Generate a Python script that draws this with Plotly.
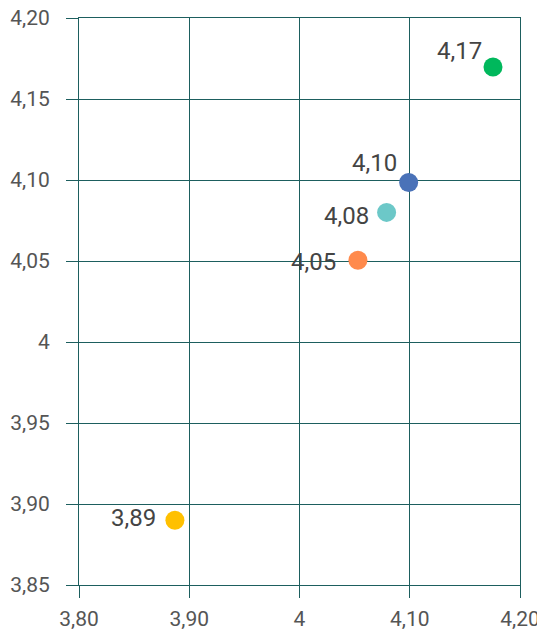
import plotly.graph_objects as go

x_vals = [4.1755, 4.099, 4.079, 4.053, 3.887]
y_vals = [4.1698, 4.0985, 4.0800, 4.0505, 3.8900]
labels = ["4,17", "4,10", "4,08", "4,05", "3,89"]
colors = ["#00b85c", "#4a72b8", "#6cc8c8", "#ff8a4c", "#ffc000"]

# label offsets in pixels (style)
label_dx = [-9, -10, -16, -20, -17]
label_dy = [16, 19, -4, -2, 2]

x_ticks = [3.80, 3.90, 4.00, 4.10, 4.20]
x_tick_text = ["3,80", "3,90", "4", "4,10", "4,20"]
y_ticks = [3.85, 3.90, 3.95, 4.00, 4.05, 4.10, 4.15, 4.20]
y_tick_text = ["3,85", "3,90", "3,95", "4", "4,05", "4,10", "4,15", "4,20"]

grid = "#1d5e5e"

fig = go.Figure(go.Scatter(
    x=x_vals, y=y_vals, mode="markers",
    marker=dict(size=19, color=colors, line=dict(width=0)),
    hoverinfo="skip", cliponaxis=False,
))

for xv, yv, lab, dx, dy in zip(x_vals, y_vals, labels, label_dx, label_dy):
    fig.add_annotation(
        x=xv, y=yv, text=lab, showarrow=False,
        xanchor="right", yanchor="middle", xshift=dx, yshift=dy,
        font=dict(family="Roboto", size=24, color="#444444"),
    )

axis_common = dict(
    showgrid=True, gridcolor=grid, gridwidth=1,
    ticks="outside", ticklen=12, tickcolor=grid, tickwidth=1,
    zeroline=False, showline=True, linecolor=grid, linewidth=1, mirror=True,
    tickfont=dict(family="Roboto", size=21, color="#555555"),
    automargin=False, ticklabeloverflow="allow",
)

fig.update_layout(
    width=537, height=623,
    margin=dict(l=71, r=25, t=10, b=46, autoexpand=False),
    paper_bgcolor="white", plot_bgcolor="white",
    showlegend=False,
    xaxis=dict(range=[3.80, 4.20], tickvals=x_ticks, ticktext=x_tick_text,
               ticklabelstandoff=3, **axis_common),
    yaxis=dict(range=[3.85, 4.20], tickvals=y_ticks, ticktext=y_tick_text,
               ticklabelstandoff=12, **axis_common),
)

fig.write_html("out.html")
